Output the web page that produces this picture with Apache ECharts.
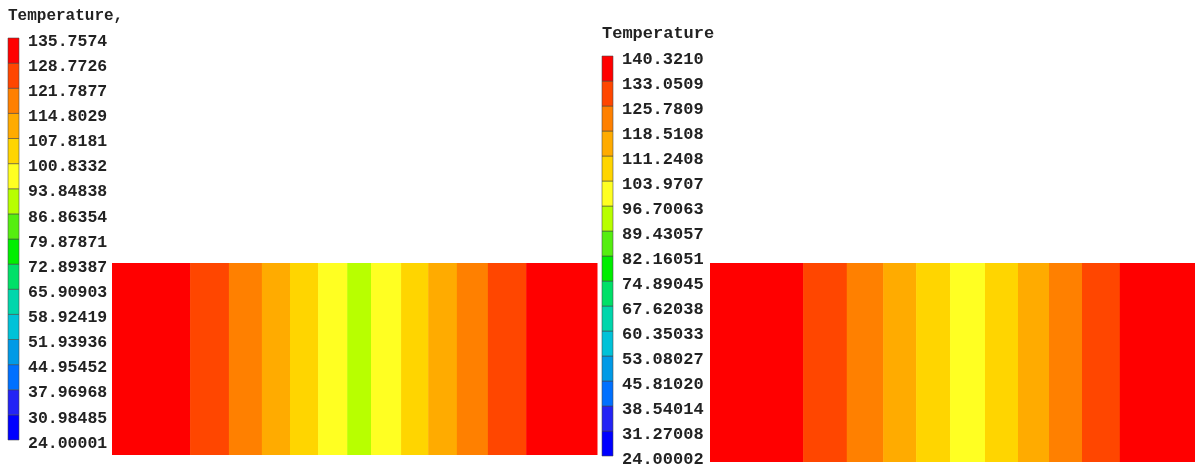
<!DOCTYPE html>
<html>
<head>
<meta charset="utf-8">
<script src="https://cdn.jsdelivr.net/npm/echarts@6/dist/echarts.min.js"></script>
<style>html,body{margin:0;padding:0;background:#fff;}#c{width:1195px;height:468px;}</style>
</head>
<body>
<div id="c"></div>
<script>
// Colour-bar tick labels (bottom to top)
const leftTicks = ['24.00001','30.98485','37.96968','44.95452','51.93936','58.92419','65.90903','72.89387','79.87871','86.86354','93.84838','100.8332','107.8181','114.8029','121.7877','128.7726','135.7574'];
const rightTicks = ['24.00002','31.27008','38.54014','45.81020','53.08027','60.35033','67.62038','74.89045','82.16051','89.43057','96.70063','103.9707','111.2408','118.5108','125.7809','133.0509','140.3210'];
// Band colours (lowest to highest)
const bandColors = ['#0000ff','#2323f5','#0070ff','#009ae6','#00c2d8','#00d6ac','#00e068','#00ee00','#55ee10','#b8ff00','#ffff22','#ffd500','#ffab00','#ff8000','#ff4600','#ff0000'];
// Contour strips along the length (% of length) and their temperatures
const leftEdges = [0, 16.1, 24.1, 30.9, 36.7, 42.5, 48.5, 53.4, 59.6, 65.2, 71.1, 77.5, 85.4, 100];
const leftTemps = [132.3, 125.3, 118.3, 111.3, 104.3, 97.3, 90.4, 97.3, 104.3, 111.3, 118.3, 125.3, 132.3];
const rightEdges = [0, 19.2, 28.2, 35.7, 42.5, 49.5, 56.7, 63.5, 69.9, 76.7, 84.5, 100];
const rightTemps = [136.7, 129.4, 122.1, 114.9, 107.6, 100.3, 107.6, 114.9, 122.1, 129.4, 136.7];

const FONT = "'Liberation Mono', 'DejaVu Sans Mono', monospace";

function pieces(ticks){
  const v = ticks.map(Number);
  const out = [];
  for (let i = 0; i < 16; i++) out.push({min: v[i], max: v[i+1], color: bandColors[i]});
  return out;
}
function barData(ticks){
  const v = ticks.map(Number);
  const out = [];
  for (let i = 0; i < 16; i++) out.push([i, i+1, (v[i]+v[i+1])/2]);
  return out;
}
function stripData(edges, temps){
  return temps.map((t, i) => [edges[i], edges[i+1], t]);
}
function renderBar(params, api){
  const a = api.coord([0, api.value(1)]);
  const b = api.coord([1, api.value(0)]);
  return {type:'rect', shape:{x:a[0], y:a[1], width:b[0]-a[0], height:b[1]-a[1]},
    style:{fill: api.visual('color'), stroke:'rgba(70,70,70,0.55)', lineWidth:1}};
}
function renderStrip(params, api){
  const a = api.coord([api.value(0), 1]);
  const b = api.coord([api.value(1), 0]);
  return {type:'rect', shape:{x:a[0], y:a[1], width:b[0]-a[0]+0.5, height:b[1]-a[1]},
    style:{fill: api.visual('color')}};
}
function barYAxis(idx, ticks, fs){
  return {gridIndex: idx, type:'value', min:0, max:16, interval:1, position:'right',
    axisLine:{show:false}, axisTick:{show:false}, splitLine:{show:false},
    axisLabel:{show:true, margin:9, fontFamily:FONT, fontWeight:'bold', fontSize:fs, color:'#222',
      verticalAlign:'top', lineHeight:7, formatter: v => ticks[Math.round(v)]}};
}
const hiddenX = (idx, max) => ({gridIndex: idx, type:'value', min:0, max:max, show:false});
const hiddenY = (idx) => ({gridIndex: idx, type:'value', min:0, max:1, show:false});

const chart = echarts.init(document.getElementById('c'), null, {renderer:'canvas'});
chart.setOption({
  animation:false,
  backgroundColor:'#fff',
  title:[
    {text:'Temperature,', left:8, top:8, padding:0, textStyle:{fontFamily:FONT, fontWeight:'bold', fontSize:16, color:'#222'}},
    {text:'Temperature', left:602, top:25, padding:0, textStyle:{fontFamily:FONT, fontWeight:'bold', fontSize:17, color:'#222'}}
  ],
  grid:[
    {left:8, top:38, width:11, height:402},
    {left:112, top:263, width:485, height:192},
    {left:602, top:56, width:11, height:403},
    {left:710, top:263, width:485, height:199}
  ],
  xAxis:[hiddenX(0,1), hiddenX(1,100), hiddenX(2,1), hiddenX(3,100)],
  yAxis:[barYAxis(0, leftTicks, 16.5), hiddenY(1), barYAxis(2, rightTicks, 17), hiddenY(3)],
  visualMap:[
    {type:'piecewise', show:false, dimension:2, seriesIndex:[0,1], pieces: pieces(leftTicks)},
    {type:'piecewise', show:false, dimension:2, seriesIndex:[2,3], pieces: pieces(rightTicks)}
  ],
  series:[
    {type:'custom', xAxisIndex:0, yAxisIndex:0, renderItem:renderBar, encode:{y:[0,1]}, data: barData(leftTicks), silent:true},
    {type:'custom', xAxisIndex:1, yAxisIndex:1, renderItem:renderStrip, encode:{x:[0,1]}, data: stripData(leftEdges, leftTemps), silent:true},
    {type:'custom', xAxisIndex:2, yAxisIndex:2, renderItem:renderBar, encode:{y:[0,1]}, data: barData(rightTicks), silent:true},
    {type:'custom', xAxisIndex:3, yAxisIndex:3, renderItem:renderStrip, encode:{x:[0,1]}, data: stripData(rightEdges, rightTemps), silent:true}
  ]
});
</script>
</body>
</html>
